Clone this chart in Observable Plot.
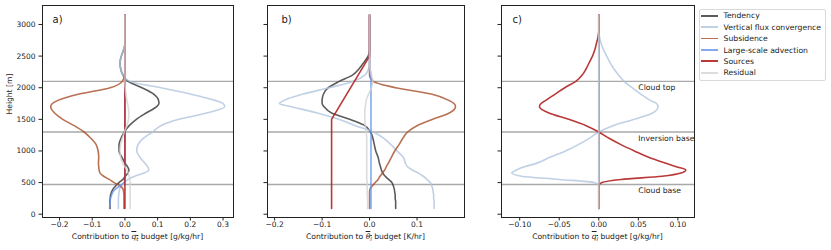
<!DOCTYPE html>
<html>
<head>
<meta charset="utf-8">
<script src="https://cdn.jsdelivr.net/npm/d3@7"></script>
<script src="https://cdn.jsdelivr.net/npm/@observablehq/plot@0.6"></script>
<style>
  html, body { margin: 0; padding: 0; background: #fff; }
  body { font-family: "DejaVu Sans", sans-serif; color: #222; }
  #root { position: relative; width: 831px; height: 250px; overflow: hidden; }
  .panel { position: absolute; top: 0; }
  .xlab { position: absolute; top: 231.5px; width: 220px; text-align: center; font-size: 7.6px; line-height: 10px; white-space: nowrap; }
  .ov { text-decoration: overline; }
  .xlab sub { font-size: 70%; vertical-align: -1.5px; line-height: 0; }
  #legend { position: absolute; left: 699px; top: 9px; width: 125px; height: 70px; border: 1px solid #d9d9d9; border-radius: 2px; background: #fff; }
  .lrow { position: absolute; left: 0; height: 11px; width: 125px; font-size: 7.7px; line-height: 11px; white-space: nowrap; }
  .lsw { position: absolute; left: 1px; top: 4.6px; width: 17px; height: 1.8px; }
  .ltx { position: absolute; left: 23.5px; top: 0; }
</style>
</head>
<body>
<div id="root"></div>
<script>
// ---------------- data ----------------
const heights = [90,150,200,250,300,350,400,450,500,550,600,650,700,750,800,900,1000,1100,1200,1300,1400,1500,1600,1700,1750,1800,1900,2000,2100,2200,2300,2400,2500,2600,2700,2800,2900,3000,3150];
const zeroHeights = [90, 3150];
const zeroValues = [0, 0];

// panel a) total water budget [g/kg/hr]
const aTendency = [-0.045,-0.046,-0.046,-0.045,-0.044,-0.041,-0.036,-0.028,-0.018,-0.006,0.001,0.009,0.012,0.008,0.001,-0.009,-0.018,-0.018,-0.012,-0.002,0.013,0.035,0.065,0.097,0.104,0.103,0.088,0.052,0.010,-0.006,-0.013,-0.015,-0.011,-0.004,0,0,0,0,0];
const aFlux     = [-0.020,-0.020,-0.020,-0.020,-0.019,-0.018,-0.016,-0.011,-0.002,0.010,0.030,0.058,0.073,0.070,0.062,0.046,0.036,0.040,0.056,0.085,0.110,0.165,0.250,0.305,0.300,0.275,0.200,0.110,0.015,-0.006,-0.013,-0.015,-0.011,-0.004,0,0,0,0,0];
const aSubs     = [-0.003,-0.003,-0.003,-0.003,-0.003,-0.004,-0.006,-0.015,-0.033,-0.048,-0.065,-0.076,-0.079,-0.080,-0.081,-0.080,-0.082,-0.088,-0.104,-0.125,-0.155,-0.190,-0.215,-0.227,-0.222,-0.205,-0.140,-0.045,-0.008,-0.001,0,0,0,0,0,0,0,0,0];
const aLSA      = [-0.047,-0.046,-0.045,-0.044,-0.041,-0.037,-0.028,-0.015,-0.003,0,0,0,0,0,0,0,0,0,0,0,0,0,0,0,0,0,0,0,0,0,0,0,0,0,0,0,0,0,0];
const aResid    = [0.016,0.016,0.016,0.016,0.016,0.016,0.016,0.016,0.016,0.015,0.013,0.010,0.006,0.000,-0.006,-0.013,-0.015,-0.013,-0.008,-0.002,0.006,0.011,0.012,0.010,0.008,0.006,0.003,0.001,0,0,0,0,0,0,0,0,0,0,0];

// panel b) liquid water potential temperature budget [K/hr]
const bTendency = [0.055,0.055,0.055,0.054,0.054,0.053,0.052,0.050,0.047,0.040,0.033,0.028,0.025,0.023,0.021,0.018,0.013,0.010,0.007,0.002,-0.010,-0.042,-0.080,-0.096,-0.100,-0.100,-0.097,-0.087,-0.064,-0.036,-0.022,-0.012,-0.003,0,0,0,0,0,0];
const bFlux     = [0.136,0.136,0.136,0.135,0.135,0.134,0.133,0.131,0.128,0.121,0.113,0.103,0.090,0.080,0.076,0.071,0.058,0.045,0.030,0.008,-0.030,-0.065,-0.110,-0.165,-0.190,-0.180,-0.140,-0.085,-0.035,-0.010,-0.002,0,0,0,0,0,0,0,0];
const bSubs     = [0,0,0,0,0,0,0.001,0.006,0.012,0.018,0.022,0.027,0.032,0.035,0.039,0.046,0.053,0.062,0.070,0.080,0.100,0.133,0.168,0.181,0.178,0.167,0.130,0.055,0.008,0,0,0,0,0,0,0,0,0,0];
const bLSA      = [0.003,0.003,0.003,0.003,0.003,0.003,0.003,0.003,0.003,0.003,0.003,0.003,0.003,0.003,0.003,0.003,0.003,0.003,0.003,0.003,0.003,0.003,0.003,0.003,0.003,0.003,0.003,0.003,0.003,0.003,0.001,0,0,0,0,0,0,0,0];
const bSourcesHeights = [90, 1500, 2500, 3150];
const bSources  = [-0.08, -0.08, 0, 0];
const bResid    = [-0.004,-0.004,-0.004,-0.004,-0.005,-0.005,-0.005,-0.005,-0.005,-0.006,-0.006,-0.006,-0.006,-0.006,-0.006,-0.006,-0.006,-0.006,-0.006,-0.007,-0.009,-0.010,-0.010,-0.009,-0.008,-0.007,-0.002,0.004,0.007,0.004,0.001,0,0,0,0,0,0,0,0];

// panel c) liquid water budget [g/kg/hr]
const cFlux     = [0,0,0,0,0,0,0,0,-0.006,-0.050,-0.098,-0.110,-0.104,-0.094,-0.080,-0.062,-0.042,-0.026,-0.012,0,0.018,0.045,0.068,0.075,0.073,0.065,0.053,0.042,0.032,0.025,0.019,0.014,0.010,0.006,0.003,0.001,0,0,0];
const cSources  = [0,0,0,0,0,0,0,0,0.004,0.028,0.080,0.104,0.110,0.098,0.086,0.063,0.045,0.028,0.013,0,-0.016,-0.038,-0.063,-0.075,-0.073,-0.067,-0.055,-0.043,-0.029,-0.021,-0.016,-0.012,-0.008,-0.005,-0.003,-0.001,0,0,0];

const seriesNames  = ["Tendency", "Vertical flux convergence", "Subsidence", "Large-scale advection", "Sources", "Residual"];
const seriesColors = ["#333333", "#b0c4de", "#a84e28", "#6495ed", "#b22222", "#d3d3d3"];

const layerLevels = [470, 1300, 2100];
const layerNames  = ["Cloud base", "Inversion base", "Cloud top"];
const yTicks = [0, 500, 1000, 1500, 2000, 2500, 3000];
const aTicks = [-0.2, -0.1, 0, 0.1, 0.2, 0.3];
const bTicks = [-0.2, -0.1, 0, 0.1];
const cTicks = [-0.1, -0.05, 0, 0.05, 0.1];

// ---------------- drawing ----------------
const FONT = "DejaVu Sans";
const yDomain = [-52, 3300];

function panel(cfg) {
  const lines = cfg.series.map(([zs, vs], i) => {
    const rows = zs.map((z, j) => ({z, v: vs[j]}));
    return Plot.line(rows, {
      x: "v", y: "z",
      stroke: seriesColors[i],
      strokeWidth: 1.6,
      strokeOpacity: i === 4 ? 0.9 : 0.8,
      curve: cfg.curves && cfg.curves[i] ? cfg.curves[i] : "monotone-y"
    });
  });
  const marks = [
    Plot.ruleY(layerLevels, {stroke: "#a9a9a9", strokeWidth: 1.4}),
    ...lines,
    Plot.axisX({ticks: cfg.xTicks, tickSize: 3.5, tickPadding: 1, tickFormat: d3.format(cfg.fmt), label: null}),
    Plot.axisY({ticks: yTicks, tickSize: 3.5, tickPadding: 3.5, tickFormat: cfg.showY ? d3.format("d") : () => "", label: null}),
    Plot.frame({stroke: "#222", strokeWidth: 1}),
    Plot.text([cfg.tag], {text: d => d, frameAnchor: "top-left", textAnchor: "start", lineAnchor: "middle", dx: cfg.tagDx, dy: 14, fontSize: 10})
  ];
  if (cfg.showY) {
    marks.push(Plot.text(["Height [m]"], {text: d => d, frameAnchor: "left", rotate: -90, dx: -33, dy: 3, fontSize: 7.6}));
  }
  if (cfg.layerLabels) {
    marks.push(Plot.text(layerLevels, {x: () => 0.05, y: d => d, text: (d, i) => layerNames[i], textAnchor: "start", lineAnchor: "top", dy: 3.5, fontSize: 7.7}));
  }
  const svg = Plot.plot({
    width: cfg.width, height: 250,
    marginTop: 5, marginBottom: 33, marginLeft: cfg.ml, marginRight: cfg.mr,
    style: {fontFamily: FONT, fontSize: "7.5px", background: "transparent", color: "#222"},
    x: {domain: cfg.xDomain, label: null},
    y: {domain: yDomain, label: null},
    marks
  });
  svg.classList.add("panel");
  svg.style.left = cfg.left + "px";
  return svg;
}

const root = document.getElementById("root");

root.appendChild(panel({
  left: 0, width: 240, ml: 42, mr: 7, xDomain: [-0.252, 0.332], xTicks: aTicks, fmt: ".1f",
  showY: true, tag: "a)", tagDx: 10,
  series: [[heights, aTendency], [heights, aFlux], [heights, aSubs], [heights, aLSA], [zeroHeights, zeroValues], [heights, aResid]]
}));
root.appendChild(panel({
  left: 240, width: 230, ml: 27, mr: 6, xDomain: [-0.215, 0.2], xTicks: bTicks, fmt: ".1f",
  showY: false, tag: "b)", tagDx: 14,
  series: [[heights, bTendency], [heights, bFlux], [heights, bSubs], [heights, bLSA], [bSourcesHeights, bSources], [heights, bResid]],
  curves: [null, null, null, null, "linear", null]
}));
root.appendChild(panel({
  left: 470, width: 228, ml: 31, mr: 4, xDomain: [-0.123, 0.121], xTicks: cTicks, fmt: ".2f",
  showY: false, tag: "c)", tagDx: 11, layerLabels: true,
  series: [[zeroHeights, zeroValues], [heights, cFlux], [zeroHeights, zeroValues], [zeroHeights, zeroValues], [heights, cSources], [zeroHeights, zeroValues]]
}));

// x-axis labels (HTML text so the overlined symbols render)
const xLabels = [
  {center: 137.5, html: 'Contribution to <span class="ov"><i>q</i><sub><i>t</i></sub></span> budget [g/kg/hr]'},
  {center: 365.5, html: 'Contribution to <span class="ov"><i>θ</i><sub><i>l</i></sub></span> budget [K/hr]'},
  {center: 597.5, html: 'Contribution to <span class="ov"><i>q</i><sub><i>l</i></sub></span> budget [g/kg/hr]'}
];
xLabels.forEach(l => {
  const d = document.createElement("div");
  d.className = "xlab";
  d.style.left = (l.center - 110) + "px";
  d.innerHTML = l.html;
  root.appendChild(d);
});

// legend
const legend = document.createElement("div");
legend.id = "legend";
seriesNames.forEach((name, i) => {
  const row = document.createElement("div");
  row.className = "lrow";
  row.style.top = (0.3 + i * 11.4) + "px";
  const sw = document.createElement("div");
  sw.className = "lsw";
  sw.style.background = seriesColors[i];
  sw.style.opacity = i === 4 ? 0.9 : 0.8;
  const tx = document.createElement("div");
  tx.className = "ltx";
  tx.textContent = name;
  row.appendChild(sw);
  row.appendChild(tx);
  legend.appendChild(row);
});
root.appendChild(legend);
</script>
</body>
</html>
